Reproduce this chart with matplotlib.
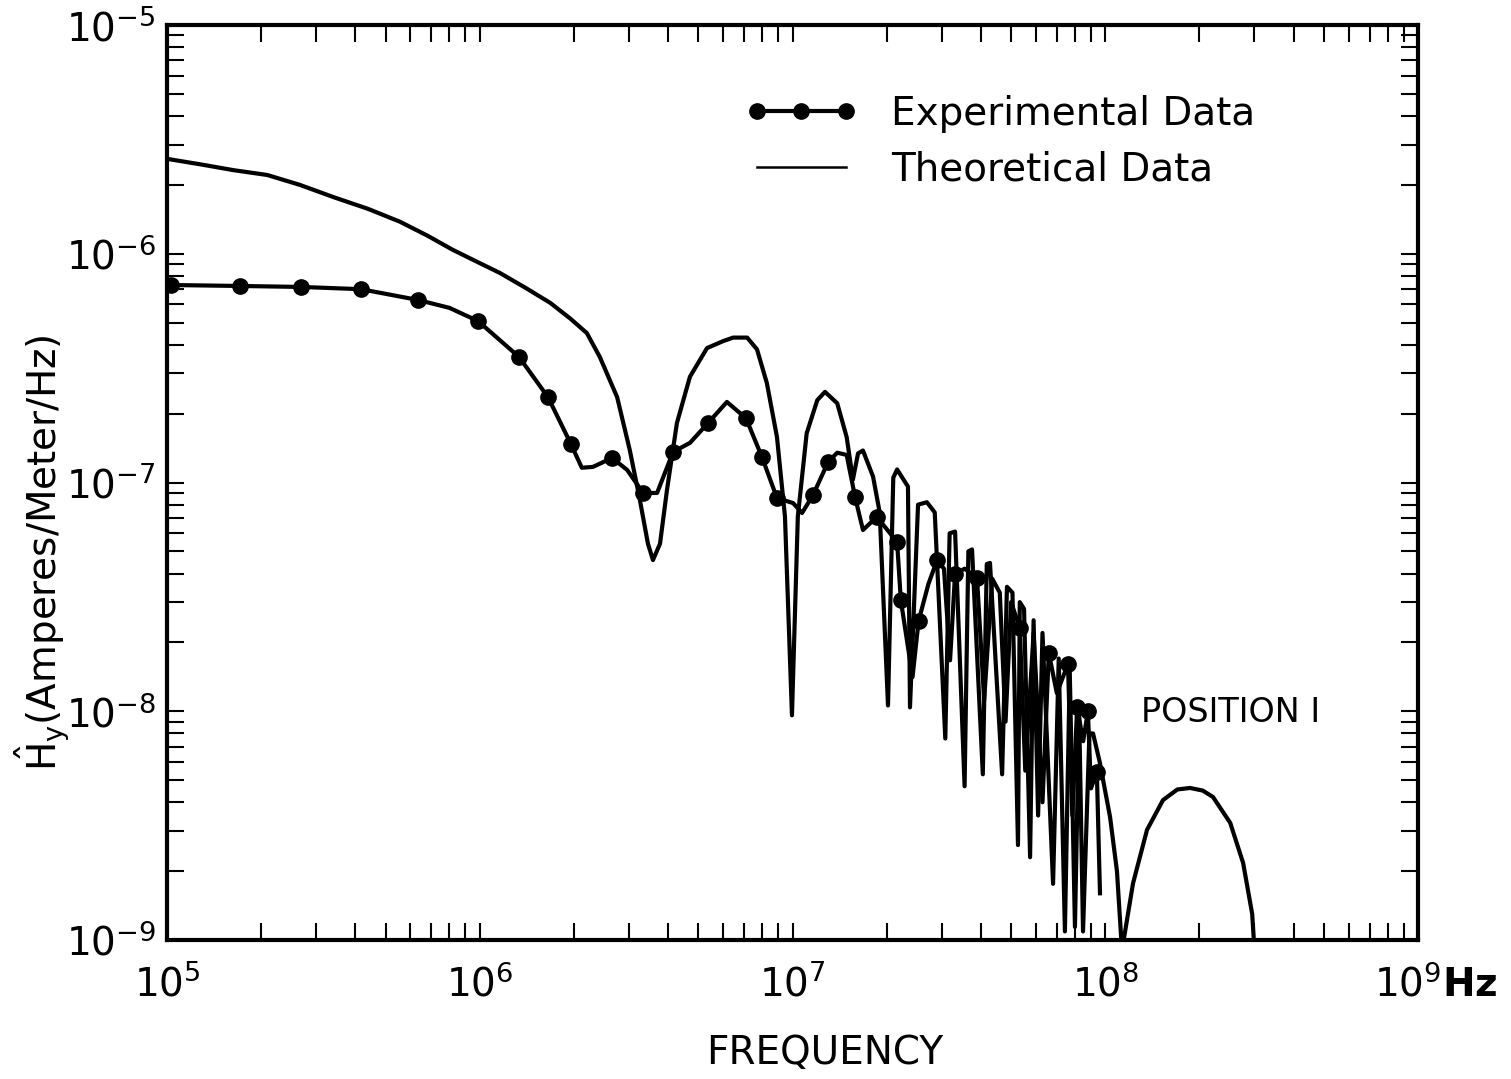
import numpy as np
import matplotlib.pyplot as plt
from matplotlib.lines import Line2D
from matplotlib.ticker import NullFormatter
from matplotlib.transforms import ScaledTranslation

# theoretical curve (Hz, A/m/Hz)
theo_f = [1.00e5, 1.30e5, 1.63e5, 2.09e5, 2.66e5, 3.40e5, 4.40e5, 5.56e5, 6.80e5, 8.20e5,
          1.00e6, 1.16e6, 1.40e6, 1.68e6, 1.95e6, 2.20e6, 2.42e6, 2.75e6, 3.02e6, 3.25e6,
          3.45e6, 3.58e6, 3.77e6, 3.97e6, 4.27e6, 4.70e6, 5.33e6, 6.00e6, 6.46e6, 7.16e6,
          7.70e6, 8.28e6, 8.92e6, 9.46e6, 9.96e6, 1.04e7, 1.11e7, 1.20e7, 1.27e7, 1.39e7,
          1.49e7, 1.56e7, 1.62e7, 1.68e7, 1.81e7, 1.90e7, 2.02e7, 2.10e7, 2.16e7, 2.34e7,
          2.375e7, 2.52e7, 2.69e7, 2.85e7, 3.08e7, 3.18e7, 3.31e7, 3.55e7, 3.65e7, 3.75e7,
          4.06e7, 4.18e7, 4.28e7, 4.68e7, 4.85e7, 5.05e7, 5.26e7, 5.33e7, 5.50e7, 5.75e7,
          5.90e7, 6.10e7, 6.30e7, 6.81e7, 7.10e7, 7.43e7, 7.70e7, 8.00e7, 8.25e7, 8.49e7,
          8.90e7, 9.14e7, 9.60e7, 1.036e8, 1.09e8, 1.131e8, 1.227e8, 1.36e8, 1.53e8, 1.70e8,
          1.866e8, 2.05e8, 2.21e8, 2.51e8, 2.76e8, 2.95e8, 3.0e8]
theo_h = [2.60e-6, 2.45e-6, 2.32e-6, 2.21e-6, 2.00e-6, 1.77e-6, 1.57e-6, 1.38e-6, 1.20e-6, 1.04e-6,
          9.1e-7, 8.24e-7, 7.1e-7, 6.10e-7, 5.2e-7, 4.50e-7, 3.54e-7, 2.36e-7, 1.38e-7, 8.4e-8,
          5.4e-8, 4.58e-8, 5.4e-8, 9.3e-8, 1.82e-7, 2.90e-7, 3.87e-7, 4.15e-7, 4.30e-7, 4.30e-7,
          3.82e-7, 2.72e-7, 1.58e-7, 7.1e-8, 9.6e-9, 7.1e-8, 1.64e-7, 2.29e-7, 2.49e-7, 2.22e-7,
          1.58e-7, 1.03e-7, 1.34e-7, 1.38e-7, 1.06e-7, 7.4e-8, 1.06e-8, 1.05e-7, 1.14e-7, 9.6e-8,
          1.04e-8, 8.0e-8, 8.2e-8, 7.4e-8, 7.6e-9, 6.0e-8, 6.1e-8, 4.7e-9, 5.0e-8, 5.1e-8,
          5.3e-9, 4.4e-8, 4.45e-8, 5.3e-9, 3.5e-8, 3.3e-8, 2.6e-9, 3.0e-8, 2.8e-8, 2.3e-9,
          2.5e-8, 3.5e-9, 2.2e-8, 1.76e-9, 1.7e-8, 1.09e-9, 1.5e-8, 1.14e-9, 1.0e-8, 1.09e-9,
          8.0e-9, 8.0e-9, 6.0e-9, 3.45e-9, 2.0e-9, 9.0e-10, 1.77e-9, 3.03e-9, 4.09e-9, 4.55e-9,
          4.62e-9, 4.5e-9, 4.22e-9, 3.25e-9, 2.17e-9, 1.3e-9, 9.0e-10]

# experimental curve
exp_f = [1.03e5, 1.71e5, 2.68e5, 4.17e5, 6.35e5, 8.0e5, 9.87e5, 1.335e6, 1.653e6, 1.958e6,
         2.12e6, 2.30e6, 2.65e6, 2.96e6, 3.33e6, 3.69e6, 4.15e6, 4.70e6, 5.37e6, 6.17e6,
         7.10e6, 7.99e6, 8.92e6, 1.004e7, 1.073e7, 1.163e7, 1.30e7, 1.39e7, 1.49e7, 1.585e7,
         1.68e7, 1.86e7, 2.16e7, 2.22e7, 2.42e7, 2.53e7, 2.72e7, 2.90e7, 3.05e7, 3.19e7,
         3.31e7, 3.55e7, 3.89e7, 4.10e7, 4.35e7, 4.60e7, 4.80e7, 5.00e7, 5.33e7, 5.55e7,
         5.90e7, 6.30e7, 6.60e7, 7.00e7, 7.60e7, 7.85e7, 8.13e7, 8.50e7, 8.80e7, 9.00e7,
         9.40e7, 9.62e7]
exp_h = [7.3e-7, 7.23e-7, 7.16e-7, 7.0e-7, 6.28e-7, 5.8e-7, 5.08e-7, 3.54e-7, 2.36e-7, 1.47e-7,
         1.16e-7, 1.17e-7, 1.28e-7, 1.135e-7, 9.0e-8, 9.0e-8, 1.36e-7, 1.49e-7, 1.82e-7, 2.25e-7,
         1.91e-7, 1.29e-7, 8.55e-8, 8.13e-8, 7.36e-8, 8.81e-8, 1.23e-7, 1.35e-7, 1.32e-7, 8.64e-8,
         6.2e-8, 7.07e-8, 5.5e-8, 3.06e-8, 1.41e-8, 2.48e-8, 3.6e-8, 4.58e-8, 4.2e-8, 1.67e-8,
         3.98e-8, 4.2e-8, 3.83e-8, 1.12e-8, 3.8e-8, 3.3e-8, 9.0e-9, 3.0e-8, 2.31e-8, 5.5e-9,
         2.2e-8, 4.0e-9, 1.8e-8, 1.2e-8, 1.61e-8, 3.5e-9, 1.04e-8, 7.4e-9, 1.0e-8, 4.6e-9,
         5.42e-9, 1.6e-9]
exp_dots = [0, 1, 2, 3, 4, 6, 7, 8, 9, 12, 14, 16, 18, 20, 21, 22, 25, 26, 29, 31, 32, 33,
            35, 37, 40, 42, 48, 52, 54, 56, 58, 60]

x_ticks = [1e5, 1e6, 1e7, 1e8, 1e9]
x_labels = ['$10^5$', '$10^6$', '$10^7$', '$10^8$', r'$10^9\mathbf{Hz}$']
y_ticks = [1e-9, 1e-8, 1e-7, 1e-6, 1e-5]
y_labels = ['$10^{-9}$', '$10^{-8}$', '$10^{-7}$', '$10^{-6}$', '$10^{-5}$']

plt.rcParams['font.family'] = 'DejaVu Sans'
plt.rcParams['mathtext.fontset'] = 'dejavusans'

W, H = 1511, 1079
fig = plt.figure(figsize=(W / 100, H / 100), dpi=100)
ax = fig.add_axes([167 / W, 1 - 940 / H, (1418 - 167) / W, (940 - 25) / H])

ax.plot(theo_f, theo_h, color='k', lw=3, solid_joinstyle='round')
ax.plot(exp_f, exp_h, color='k', lw=3, solid_joinstyle='round',
        marker='o', ms=11, markevery=exp_dots)

ax.set_xscale('log')
ax.set_yscale('log')
ax.set_xlim(1e5, 1e9)
ax.set_ylim(1e-9, 1e-5)
ax.set_xticks(x_ticks)
ax.set_xticklabels(x_labels)
ax.set_yticks(y_ticks)
ax.set_yticklabels(y_labels)
ax.xaxis.set_minor_formatter(NullFormatter())
ax.yaxis.set_minor_formatter(NullFormatter())
ax.tick_params(which='both', direction='in', top=True, right=True,
               length=12, width=1.5, labelsize=28)
ax.tick_params(axis='x', pad=18)
ax.tick_params(axis='y', pad=8)
for s in ax.spines.values():
    s.set_linewidth(3)

lab = ax.get_xticklabels()[-1]
lab.set_transform(lab.get_transform() + ScaledTranslation(0.18, 0, fig.dpi_scale_trans))

fig.text(42 / W, 1 - 553 / H, r'$\mathrm{\hat{H}_y}$(Amperes/Meter/Hz)', rotation=90,
         ha='center', va='center', fontsize=28)
fig.text(825 / W, 1 - 1053 / H, 'FREQUENCY', ha='center', va='center', fontsize=28)
fig.text(1231 / W, 1 - 712 / H, 'POSITION I', ha='center', va='center', fontsize=24)

handles = [Line2D([], [], color='k', lw=3, marker='o', ms=11),
           Line2D([], [], color='k', lw=1.8)]
ax.legend(handles, ['Experimental Data', 'Theoretical Data'], loc='upper left',
          bbox_to_anchor=(745 / W, 1 - 95 / H), bbox_transform=fig.transFigure,
          frameon=False, numpoints=3, handlelength=2.9, handletextpad=0.85,
          labelspacing=0.45, fontsize=28, borderpad=0, borderaxespad=0)

fig.savefig('out.png', dpi=100)
